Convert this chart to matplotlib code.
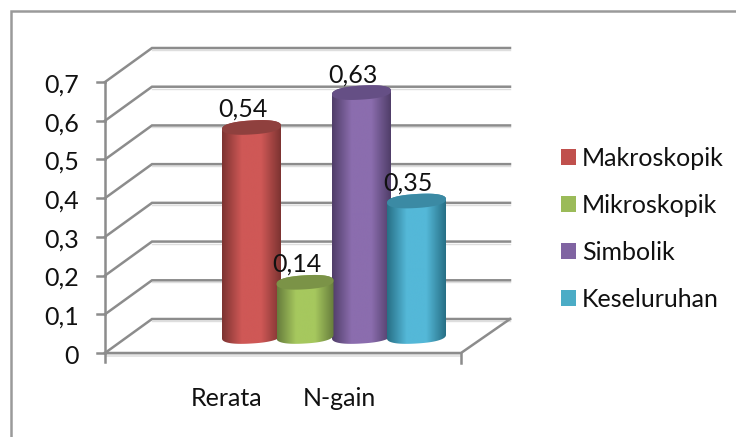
import numpy as np
import matplotlib
matplotlib.use('Agg')
import matplotlib.pyplot as plt
from matplotlib.patches import Patch, PathPatch, Polygon
from matplotlib.path import Path
from matplotlib.colors import LinearSegmentedColormap

series = ['Makroskopik', 'Mikroskopik', 'Simbolik', 'Keseluruhan']
values = [0.54, 0.14, 0.63, 0.35]
categories = ['Rerata', 'N-gain']
y_ticks = [0, 0.1, 0.2, 0.3, 0.4, 0.5, 0.6, 0.7]

legend_colors = ['#c0504d', '#9bbb59', '#8064a2', '#4bacc6']
edge_colors = ['#7c3331', '#667c3c', '#4f3d68', '#276f85']
mid_colors = ['#cf5856', '#a6c85e', '#8b6dae', '#54b8d8']
top_colors = ['#8f403e', '#7b9347', '#654f85', '#3b8aa4']

W, H = 736, 437
Y0 = 353            # pixel row of value 0 on the front plane
PX = 271 / 0.7      # pixels per unit of value
FS = 18

plt.rcParams['font.family'] = ['Lato', 'DejaVu Sans']
fig = plt.figure(figsize=(W / 100, H / 100), dpi=100)
ax = fig.add_axes([0, 0, 1, 1])
ax.axis('off')


def val(row):
    return (Y0 - row) / PX


grey = '#8c8c8c'
shadow = '#dedede'
dz = 34 / PX

# outer frame, top and left only
ax.plot([11, 11, W], [val(H), val(11), val(11)], color='#9a9a9a', lw=1.8, solid_joinstyle='miter')

# gridlines on the back wall and the side wall
for t in y_ticks:
    ax.plot([152, 510], [t + dz - 2 / PX] * 2, color=shadow, lw=1.0)
    ax.plot([105, 152, 510], [t, t + dz, t + dz], color=grey, lw=1.8, solid_joinstyle='miter')
    ax.plot([97, 105], [t, t], color=grey, lw=1.8)
    ax.text(79, t - 3 / PX, str(t).replace('.', ','), ha='right', va='center', fontsize=FS, color='#111111')

# floor and axes
ax.fill_between([105, 461], [0, 0], [-4 / PX, -4 / PX], color='#e4e4e4', lw=0)
ax.plot([105, 461, 510], [0, 0, dz], color=grey, lw=1.8, solid_joinstyle='miter')
ax.plot([105, 105], [-9 / PX, 0.7], color=grey, lw=1.8)
ax.plot([461, 461], [-10 / PX, 0], color=grey, lw=1.8)

for name, x in zip(categories, [227, 339]):
    ax.text(x, val(399), name, ha='center', va='center', fontsize=FS, color='#111111')

# cylinders; green and cyan sit over their neighbours
centers = [251.5, 305, 361.5, 416.5]
half_widths = [29.5, 28.5, 29.5, 29.5]
half_h = 7
tilt = 0.06
base = 336.5
order = [0, 2, 1, 3]


def ellipse_pts(cx, half_w, cy_val, start, stop):
    t = np.linspace(start, stop, 80)
    c = np.sign(np.cos(t)) * np.abs(np.cos(t)) ** 0.85
    s = np.sign(np.sin(t)) * np.abs(np.sin(t)) ** 0.85
    xs = cx + half_w * c
    ys = cy_val + (half_h * s + tilt * half_w * c) / PX
    return np.column_stack([xs, ys])


for i in order:
    cx, v, hw = centers[i], values[i], half_widths[i]
    foot = val(base)
    head = foot + v
    cmap = LinearSegmentedColormap.from_list('cyl', [edge_colors[i], mid_colors[i], mid_colors[i], edge_colors[i]])
    grad = np.linspace(0, 1, 256)[None, :]
    lower = ellipse_pts(cx, hw, foot, np.pi, 2 * np.pi)
    upper = ellipse_pts(cx, hw, head, 0, np.pi)
    body = Path(np.vstack([lower, upper, lower[:1]]), closed=True)
    im = ax.imshow(grad, extent=[cx - hw, cx + hw, foot - 10 / PX, head + 10 / PX],
                   aspect='auto', cmap=cmap, zorder=3 + order.index(i))
    clip = PathPatch(body, transform=ax.transData, fc='none', ec='none')
    ax.add_patch(clip)
    im.set_clip_path(clip)
    ax.add_patch(Polygon(ellipse_pts(cx, hw, head, 0, 2 * np.pi), closed=True, fc=top_colors[i], ec='none',
                         zorder=3 + order.index(i)))
    ax.text(cx - 8.5, head + 18 / PX, f'{v:.2f}'.replace('.', ','), ha='center', va='center',
            fontsize=FS, color='#111111', zorder=10)

handles = [Patch(fc=c, ec='none', label=s) for c, s in zip(legend_colors, series)]
ax.legend(handles=handles, loc='center left', bbox_to_anchor=(553.5 / W, 1 - 229 / H), frameon=False,
          fontsize=FS, handlelength=0.6, handleheight=0.6, handletextpad=0.24, labelspacing=0.96,
          labelcolor='#111111', borderpad=0.3, borderaxespad=0)

ax.set_xlim(0, W)
ax.set_ylim(val(H), val(0))
fig.savefig('out.png', dpi=100)
